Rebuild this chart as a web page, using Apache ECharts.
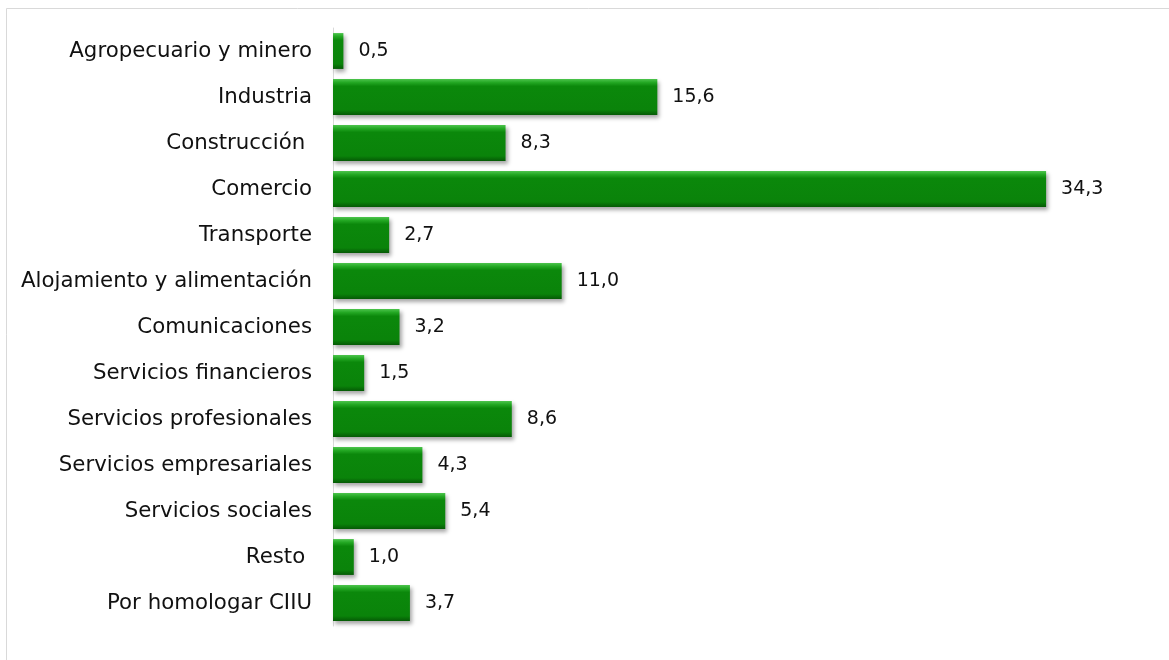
<!DOCTYPE html>
<html>
<head>
<meta charset="utf-8">
<script src="https://cdn.jsdelivr.net/npm/echarts@6/dist/echarts.min.js"></script>
<style>
html,body{margin:0;padding:0;background:#fff;}
#chart{width:1169px;height:660px;}
</style>
</head>
<body>
<div id="chart"></div>
<script>
const categories = [
  "Agropecuario y minero",
  "Industria",
  "Construcción ",
  "Comercio",
  "Transporte",
  "Alojamiento y alimentación",
  "Comunicaciones",
  "Servicios financieros",
  "Servicios profesionales",
  "Servicios empresariales",
  "Servicios sociales",
  "Resto ",
  "Por homologar CIIU"
];
const values = [0.5, 15.6, 8.3, 34.3, 2.7, 11.0, 3.2, 1.5, 8.6, 4.3, 5.4, 1.0, 3.7];

const chart = echarts.init(document.getElementById('chart'));
const barColor = new echarts.graphic.LinearGradient(0, 0, 0, 1, [
  {offset: 0, color: '#4cc44c'},
  {offset: 0.1, color: '#22a622'},
  {offset: 0.2, color: '#0b880b'},
  {offset: 0.86, color: '#0a830a'},
  {offset: 1, color: '#055a05'}
]);
chart.setOption({
  animation: false,
  backgroundColor: '#ffffff',
  graphic: [{
    type: 'rect',
    shape: {x: 6.5, y: 8.5, width: 1200, height: 700},
    style: {fill: 'none', stroke: '#d9d9d9', lineWidth: 1},
    silent: true, z: -1
  }],
  grid: {left: 333, right: 4.4, top: 28, bottom: 34, containLabel: false},
  xAxis: {
    type: 'value', min: 0, max: 40,
    show: false
  },
  yAxis: {
    type: 'category',
    data: categories,
    inverse: true,
    axisLine: {show: true, lineStyle: {color: '#d9d9d9', width: 1}},
    axisTick: {show: false},
    axisLabel: {
      margin: 21,
      color: '#111111',
      fontFamily: 'DejaVu Sans',
      fontSize: 21.3
    }
  },
  series: [{
    type: 'bar',
    data: values,
    barCategoryGap: '22%',
    itemStyle: {
      color: barColor,
      shadowColor: 'rgba(0,0,0,0.35)',
      shadowBlur: 4,
      shadowOffsetX: 2,
      shadowOffsetY: 3
    },
    label: {
      show: true,
      position: 'right',
      distance: 15,
      color: '#111111',
      fontFamily: 'DejaVu Sans',
      fontSize: 19
    },
    labelLayout: null
  }]
});
chart.setOption({
  series: [{
    label: {formatter: p => p.value.toFixed(1).replace('.', ',')}
  }]
});
</script>
</body>
</html>
